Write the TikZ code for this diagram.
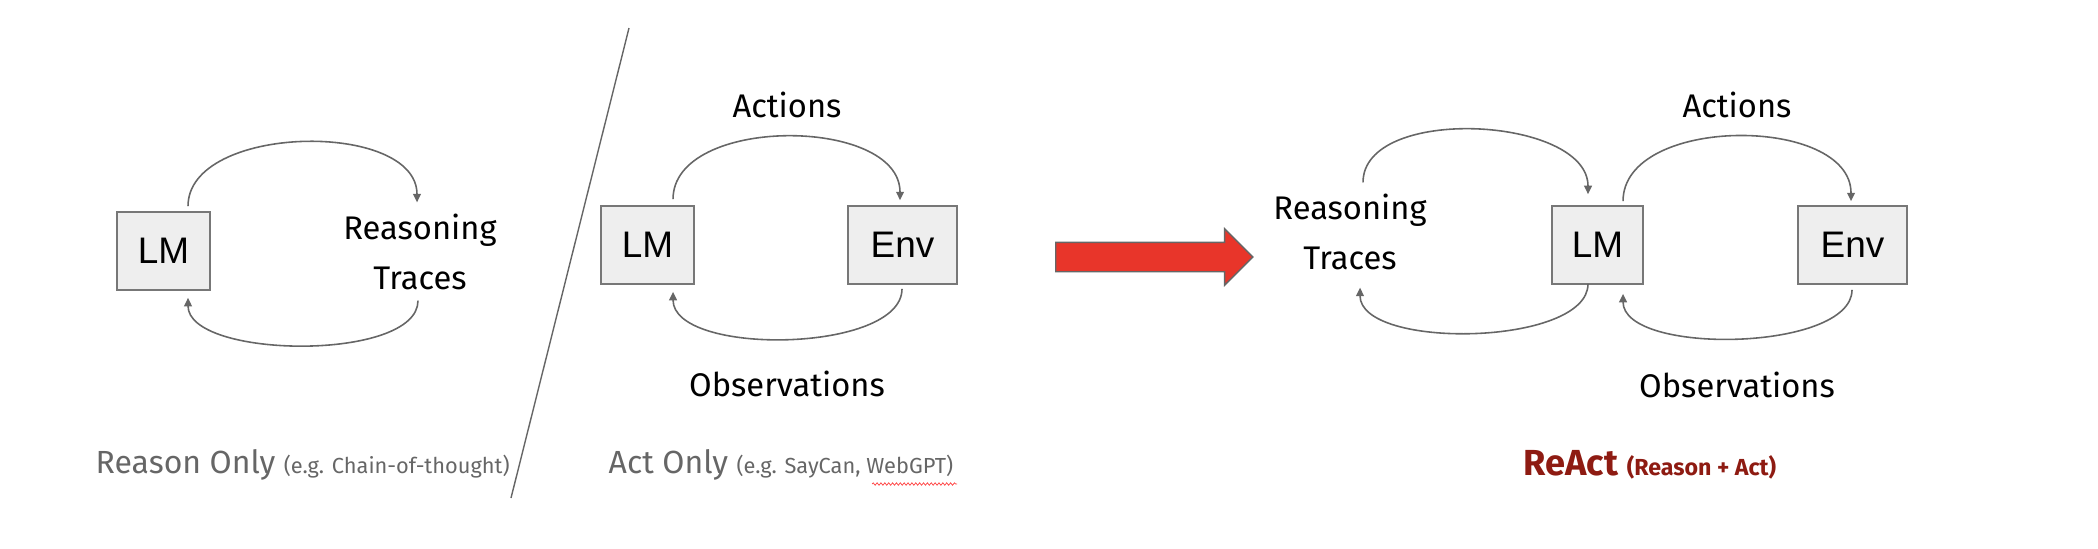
\documentclass[tikz,border=0pt]{standalone}
\usepackage{fontspec}
\setmainfont{Fira Sans}
\newfontfamily\boxfont{Liberation Sans}
\usepackage{tikz}
\usetikzlibrary{arrows.meta, shapes.arrows, decorations.pathmorphing}
\usepackage{xcolor}
\definecolor{linegray}{HTML}{666666}
\definecolor{capgray}{HTML}{666666}
\definecolor{boxfill}{HTML}{EEEEEE}
\definecolor{boxline}{HTML}{777777}
\definecolor{reactred}{HTML}{8E1B12}
\definecolor{arrowred}{HTML}{E8352A}
\newcommand{\capnote}[1]{{\fontsize{6.2}{7}\selectfont #1}}

\begin{document}
\begin{tikzpicture}[x=0.01cm, y=0.01cm,
    box/.style={draw=boxline, fill=boxfill, line width=0.45pt, minimum height=0.78cm, inner sep=0pt, font=\boxfont\fontsize{10.5}{12}\selectfont},
    lbl/.style={font=\fontsize{9.3}{14.2}\selectfont, inner sep=0pt, align=center},
    tagline/.style={text=capgray, font=\fontsize{9.1}{10}\selectfont, inner sep=0pt, anchor=base west},
    flow/.style={draw=linegray, line width=0.45pt, -{Triangle[length=2.4pt, width=2.2pt]}},
    bigarrow/.style={single arrow, draw=linegray, fill=arrowred, line width=0.4pt, inner xsep=0pt, inner ysep=0.14cm, minimum height=1.97cm, minimum width=0.55cm, single arrow head extend=0.135cm, single arrow head indent=0pt},
    squiggle/.style={decorate, decoration={snake, amplitude=0.35pt, segment length=1.1pt}, draw=red!75, line width=0.2pt}]
  \useasboundingbox (0,0) rectangle (2098,-548);

  \draw[linegray, line width=0.4pt] (629,-28) -- (511,-498);

  \node[box, minimum width=0.93cm] (lm1) at (163.5,-251) {LM};
  \node[lbl] (rt1) at (420,-252) {Reasoning\\Traces};

  \node[box, minimum width=0.93cm] (lm2) at (647.5,-245) {LM};
  \node[box, minimum width=1.09cm] (env2) at (902.5,-245) {Env};
  \node[lbl, anchor=base] (act2) at (787,-117) {Actions};
  \node[lbl, anchor=base] (obs2) at (787,-396) {Observations};

  \node[bigarrow, anchor=tail] (go) at (1055,-257) {};

  \node[lbl] (rt3) at (1350,-232) {Reasoning\\Traces};
  \node[box, minimum width=0.91cm] (lm3) at (1597.5,-245) {LM};
  \node[box, minimum width=1.09cm] (env3) at (1852.5,-245) {Env};
  \node[lbl, anchor=base] (act3) at (1737,-117) {Actions};
  \node[lbl, anchor=base] (obs3) at (1737,-397) {Observations};

  \node[tagline] (tag1) at (95,-473) {Reason Only \capnote{(e.g. Chain-of-thought)}};
  \node[tagline] (tag2) at (608,-473) {Act Only \capnote{(e.g. SayCan, WebGPT)}};
  \node[tagline, text=reactred, font=\bfseries\fontsize{10.3}{12}\selectfont] (tag3) at (1523,-475) {ReAct {\fontsize{6.6}{8}\selectfont (Reason + Act)}};
  \draw[squiggle] (872,-484) -- (957,-484);

  \draw[flow] ([xshift=0.245cm, yshift=0.05cm]lm1.north) to[out=90, in=90, looseness=0.92] ([xshift=-0.03cm, yshift=0.11cm]rt1.north);
  \draw[flow] ([xshift=-0.02cm, yshift=-0.1cm]rt1.south) to[out=-90, in=-90, looseness=0.68] ([xshift=0.245cm, yshift=-0.07cm]lm1.south);

  \draw[flow] ([xshift=0.255cm, yshift=0.06cm]lm2.north) to[out=90, in=90, looseness=0.945] ([xshift=-0.025cm, yshift=0.05cm]env2.north);
  \draw[flow] ([xshift=-0.005cm, yshift=-0.04cm]env2.south) to[out=-90, in=-90, looseness=0.72] ([xshift=0.255cm, yshift=-0.07cm]lm2.south);

  \draw[flow] ([xshift=0.13cm, yshift=0.11cm]rt3.north) to[out=90, in=90, looseness=0.885] ([xshift=-0.095cm, yshift=0.11cm]lm3.north);
  \draw[flow] ([xshift=-0.095cm, yshift=0.01cm]lm3.south) to[out=-90, in=-90, looseness=0.7] ([xshift=0.1cm, yshift=-0.17cm]rt3.south);
  \draw[flow] ([xshift=0.255cm, yshift=0.04cm]lm3.north) to[out=90, in=90, looseness=0.97] ([xshift=-0.015cm, yshift=0.04cm]env3.north);
  \draw[flow] ([xshift=-0.005cm, yshift=-0.05cm]env3.south) to[out=-90, in=-90, looseness=0.69] ([xshift=0.255cm, yshift=-0.09cm]lm3.south);
\end{tikzpicture}
\end{document}
